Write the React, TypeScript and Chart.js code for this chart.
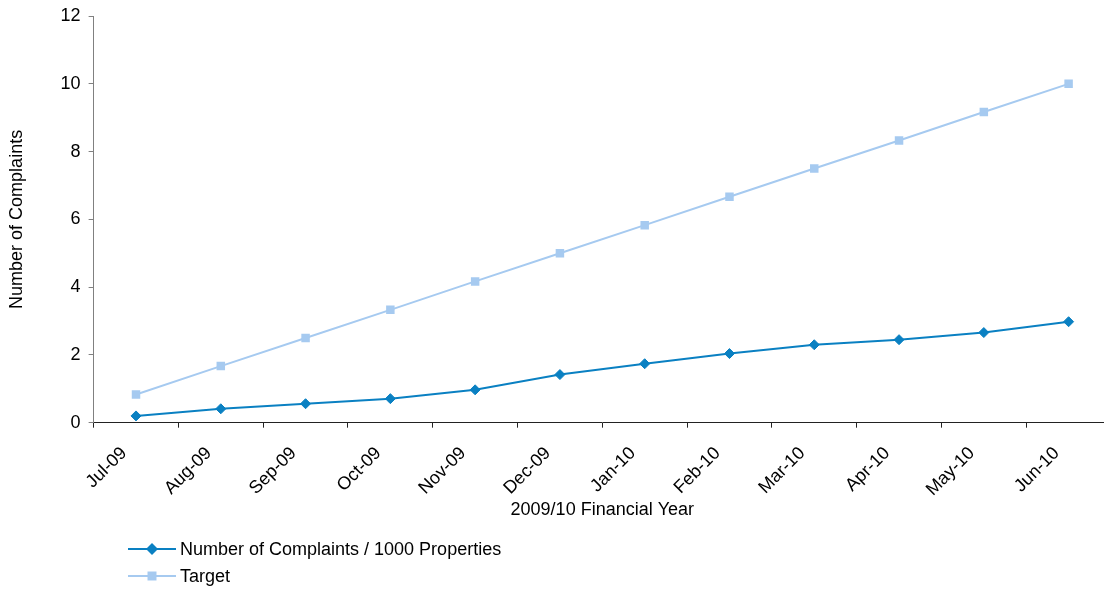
import React, { useEffect, useRef } from 'react';
import { Chart, registerables } from 'chart.js';

Chart.register(...registerables);

const months = ['Jul-09', 'Aug-09', 'Sep-09', 'Oct-09', 'Nov-09', 'Dec-09', 'Jan-10', 'Feb-10', 'Mar-10', 'Apr-10', 'May-10', 'Jun-10'];
const complaints = [0.2, 0.41, 0.56, 0.71, 0.97, 1.42, 1.74, 2.04, 2.3, 2.45, 2.66, 2.98];
const target = [0.83, 1.67, 2.5, 3.33, 4.17, 5.0, 5.83, 6.67, 7.5, 8.33, 9.17, 10.0];
const seriesNames = ['Number of Complaints / 1000 Properties', 'Target'];
const yTitle = 'Number of Complaints';
const xTitle = '2009/10 Financial Year';

const FONT = 'Arial, "Liberation Sans", sans-serif';
const FS = 18;
const C1 = '#0a80c2';
const C2 = '#a6caf0';

const legendPlugin = {
  id: 'customLegend',
  afterDraw(chart: any) {
    const ctx = chart.ctx as CanvasRenderingContext2D;
    const ys = [549, 576];
    const x0 = 128;
    chart.data.datasets.forEach((ds: any, i: number) => {
      const y = ys[i];
      ctx.save();
      ctx.strokeStyle = ds.borderColor;
      ctx.lineWidth = ds.borderWidth;
      ctx.beginPath();
      ctx.moveTo(x0, y);
      ctx.lineTo(x0 + 48, y);
      ctx.stroke();
      ctx.fillStyle = ds.pointBackgroundColor;
      const cx = x0 + 24;
      ctx.beginPath();
      if (ds.pointStyle === 'rectRot') {
        const r = 6;
        ctx.moveTo(cx, y - r);
        ctx.lineTo(cx + r, y);
        ctx.lineTo(cx, y + r);
        ctx.lineTo(cx - r, y);
        ctx.closePath();
      } else {
        ctx.rect(cx - 4.5, y - 4.5, 9, 9);
      }
      ctx.fill();
      ctx.fillStyle = '#000';
      ctx.font = `${FS}px ${FONT}`;
      ctx.textBaseline = 'middle';
      ctx.textAlign = 'left';
      ctx.fillText(ds.label, x0 + 52, y + 1);
      ctx.restore();
    });
  },
};

export default function App() {
  const ref = useRef<HTMLCanvasElement>(null);
  useEffect(() => {
    document.body.style.margin = '0';
    const chart = new Chart(ref.current!, {
      type: 'line',
      data: {
        labels: months,
        datasets: [
          {
            label: seriesNames[0],
            data: complaints,
            borderColor: C1,
            backgroundColor: C1,
            pointBackgroundColor: C1,
            pointBorderColor: C1,
            borderWidth: 2,
            pointStyle: 'rectRot',
            pointRadius: 5,
            pointBorderWidth: 1,
            tension: 0,
          },
          {
            label: seriesNames[1],
            data: target,
            borderColor: C2,
            backgroundColor: C2,
            pointBackgroundColor: C2,
            pointBorderColor: C2,
            borderWidth: 2,
            pointStyle: 'rect',
            pointRadius: 6,
            pointBorderWidth: 0,
            tension: 0,
          },
        ],
      },
      options: {
        responsive: false,
        animation: false,
        layout: { padding: { top: 2, left: 6, right: 0, bottom: 68 } },
        plugins: { legend: { display: false }, tooltip: { enabled: false } },
        scales: {
          x: {
            type: 'category',
            offset: true,
            grid: { offset: true, drawOnChartArea: false, tickLength: 5, color: '#222' },
            border: { color: '#222', width: 1 },
            ticks: { minRotation: 45, maxRotation: 45, color: '#000', font: { size: FS, family: FONT }, padding: 15, labelOffset: -12 },
            title: { display: true, text: xTitle, color: '#000', font: { size: FS, family: FONT }, padding: { top: -16, bottom: 0 } },
          },
          y: {
            min: 0,
            max: 12,
            ticks: { stepSize: 2, color: '#000', font: { size: FS, family: FONT, lineHeight: 0.9 }, padding: 8 },
            grid: { drawOnChartArea: false, tickLength: 5, color: '#808080' },
            border: { color: '#808080', width: 1 },
            title: { display: true, text: yTitle, color: '#000', font: { size: FS, family: FONT }, padding: { top: 0, bottom: 25 } },
          },
        },
      },
      plugins: [legendPlugin],
    });
    return () => chart.destroy();
  }, []);
  return (
    <div style={{ position: 'fixed', left: 0, top: 0, width: 1104, height: 589, overflow: 'hidden', background: '#fff' }}>
      <canvas ref={ref} width={1117} height={589} style={{ width: 1117, height: 589, display: 'block' }} />
    </div>
  );
}
